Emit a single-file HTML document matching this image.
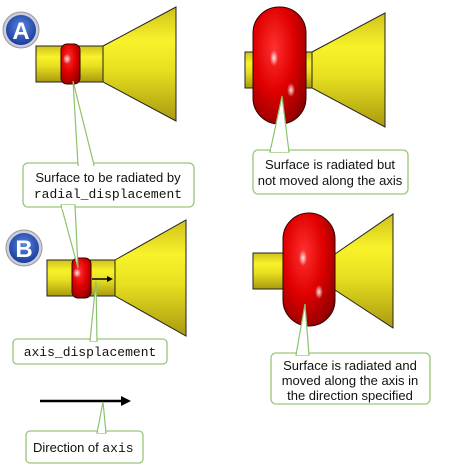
<!DOCTYPE html>
<html><head><meta charset="utf-8"><style>
html,body{margin:0;padding:0;background:#fff;width:468px;height:468px;overflow:hidden}
svg{display:block}
.t{font-family:"Liberation Sans",sans-serif;font-size:13px;fill:#111}
.m{font-family:"Liberation Mono",monospace;font-size:13px;fill:#111}
.box{fill:#fff;stroke:#97c77a;stroke-width:1.3}
.ptr{fill:#fff;stroke:#8cc26e;stroke-width:1.2}
</style></head><body>
<svg width="468" height="468" viewBox="0 0 468 468">
<defs>
<linearGradient id="yel" x1="0" y1="0" x2="0" y2="1">
<stop offset="0" stop-color="#cfc21c"/><stop offset="0.3" stop-color="#f8f22a"/><stop offset="0.55" stop-color="#e8e020"/><stop offset="1" stop-color="#a99a10"/></linearGradient>
<radialGradient id="red" cx="0.4" cy="0.35" r="0.75">
<stop offset="0" stop-color="#ff3030"/><stop offset="0.5" stop-color="#e00000"/><stop offset="1" stop-color="#8a0000"/></radialGradient>
<radialGradient id="hl" cx="0.5" cy="0.5" r="0.5"><stop offset="0" stop-color="#fff" stop-opacity="0.9"/><stop offset="1" stop-color="#fff" stop-opacity="0"/></radialGradient>
<radialGradient id="badge" cx="0.5" cy="0.4" r="0.6"><stop offset="0" stop-color="#5a86e0"/><stop offset="1" stop-color="#1a3c9c"/></radialGradient>
</defs>

<g>
<circle cx="21" cy="30" r="18" fill="#ccd" stroke="#999"/>
<circle cx="21" cy="30" r="15" fill="url(#badge)"/>
<text x="21" y="39" text-anchor="middle" font-family="Liberation Sans" font-weight="bold" font-size="24" fill="#fff">A</text>
</g>
<g>
<polygon points="103,46 176,7 176,121 103,82" fill="url(#yel)" stroke="#222"/>
<rect x="36" y="46" width="67" height="36" fill="url(#yel)" stroke="#222"/>
<rect x="61" y="44" width="19" height="40" rx="6" fill="url(#red)" stroke="#300"/>
<ellipse cx="67" cy="59" rx="4" ry="5" fill="url(#hl)"/>
</g>
<g>
<polygon points="312,52 385,13 385,127 312,88" fill="url(#yel)" stroke="#222"/>
<rect x="245" y="52" width="67" height="36" fill="url(#yel)" stroke="#222"/>
<rect x="253" y="7" width="53" height="117" rx="26" fill="url(#red)" stroke="#300"/>
<ellipse cx="274" cy="58" rx="4" ry="8" fill="url(#hl)"/>
<ellipse cx="291" cy="90" rx="4" ry="7" fill="url(#hl)"/>
</g>

<g>
<circle cx="24" cy="248" r="18" fill="#ccd" stroke="#999"/>
<circle cx="24" cy="248" r="15" fill="url(#badge)"/>
<text x="24" y="257" text-anchor="middle" font-family="Liberation Sans" font-weight="bold" font-size="24" fill="#fff">B</text>
</g>
<g>
<polygon points="115,260 186,220 186,336 115,296" fill="url(#yel)" stroke="#222"/>
<rect x="47" y="260" width="68" height="36" fill="url(#yel)" stroke="#222"/>
<rect x="72" y="258" width="19" height="40" rx="6" fill="url(#red)" stroke="#300"/>
<ellipse cx="77" cy="273" rx="4" ry="5" fill="url(#hl)"/>
<line x1="92" y1="279" x2="108" y2="279" stroke="#000" stroke-width="1.5"/>
<polygon points="113,279 107,276 107,282" fill="#000"/>
</g>
<g>
<polygon points="335,254 393,214 393,328 335,290" fill="url(#yel)" stroke="#222"/>
<rect x="253" y="253" width="32" height="36" fill="url(#yel)" stroke="#222"/>
<rect x="283" y="213" width="52" height="113" rx="26" fill="url(#red)" stroke="#300"/>
<ellipse cx="303" cy="258" rx="4" ry="8" fill="url(#hl)"/>
<ellipse cx="319" cy="292" rx="4" ry="7" fill="url(#hl)"/>
</g>

<g>
<line x1="40" y1="401" x2="122" y2="401" stroke="#000" stroke-width="2.5"/>
<polygon points="131,401 121,396 121,406" fill="#000"/>
</g>

<g>
<rect class="box" x="23" y="163" width="171" height="44" rx="5"/>
<polygon class="ptr" points="78,165 73,81 94,165"/>
<polygon class="ptr" points="61,205 78,268 75,205"/>
<rect x="79" y="162" width="14" height="4" fill="#fff"/>
<rect x="62" y="205" width="12" height="4" fill="#fff"/>
<text class="t" x="108" y="182" text-anchor="middle">Surface to be radiated by</text>
<text class="m" x="108" y="198" text-anchor="middle">radial_displacement</text>
</g>
<g>
<rect class="box" x="253" y="150" width="155" height="44" rx="5"/>
<polygon class="ptr" points="270,152 282,96 289,152"/>
<rect x="271" y="148" width="17" height="4" fill="#fff"/>
<text class="t" x="330" y="169" text-anchor="middle">Surface is radiated but</text>
<text class="t" x="330" y="185" text-anchor="middle">not moved along the axis</text>
</g>
<g>
<rect class="box" x="13" y="339" width="154" height="25" rx="4"/>
<polygon class="ptr" points="90,341 96,281 97,341"/>
<rect x="91" y="337" width="5" height="4" fill="#fff"/>
<text class="m" x="90" y="356" text-anchor="middle">axis_displacement</text>
</g>
<g>
<rect class="box" x="271" y="353" width="159" height="51" rx="5"/>
<polygon class="ptr" points="296,355 305,304 309,355"/>
<rect x="297" y="351" width="11" height="4" fill="#fff"/>
<text class="t" x="350" y="370" text-anchor="middle">Surface is radiated and</text>
<text class="t" x="350" y="385" text-anchor="middle">moved along the axis in</text>
<text class="t" x="350" y="400" text-anchor="middle">the direction specified</text>
</g>
<g>
<rect class="box" x="26" y="431" width="117" height="32" rx="4"/>
<polygon class="ptr" points="97,433 103,402 106,433"/>
<rect x="98" y="429" width="7" height="4" fill="#fff"/>
<text class="t" x="33" y="452">Direction of <tspan class="m">axis</tspan></text>
</g>
</svg>
</body></html>
